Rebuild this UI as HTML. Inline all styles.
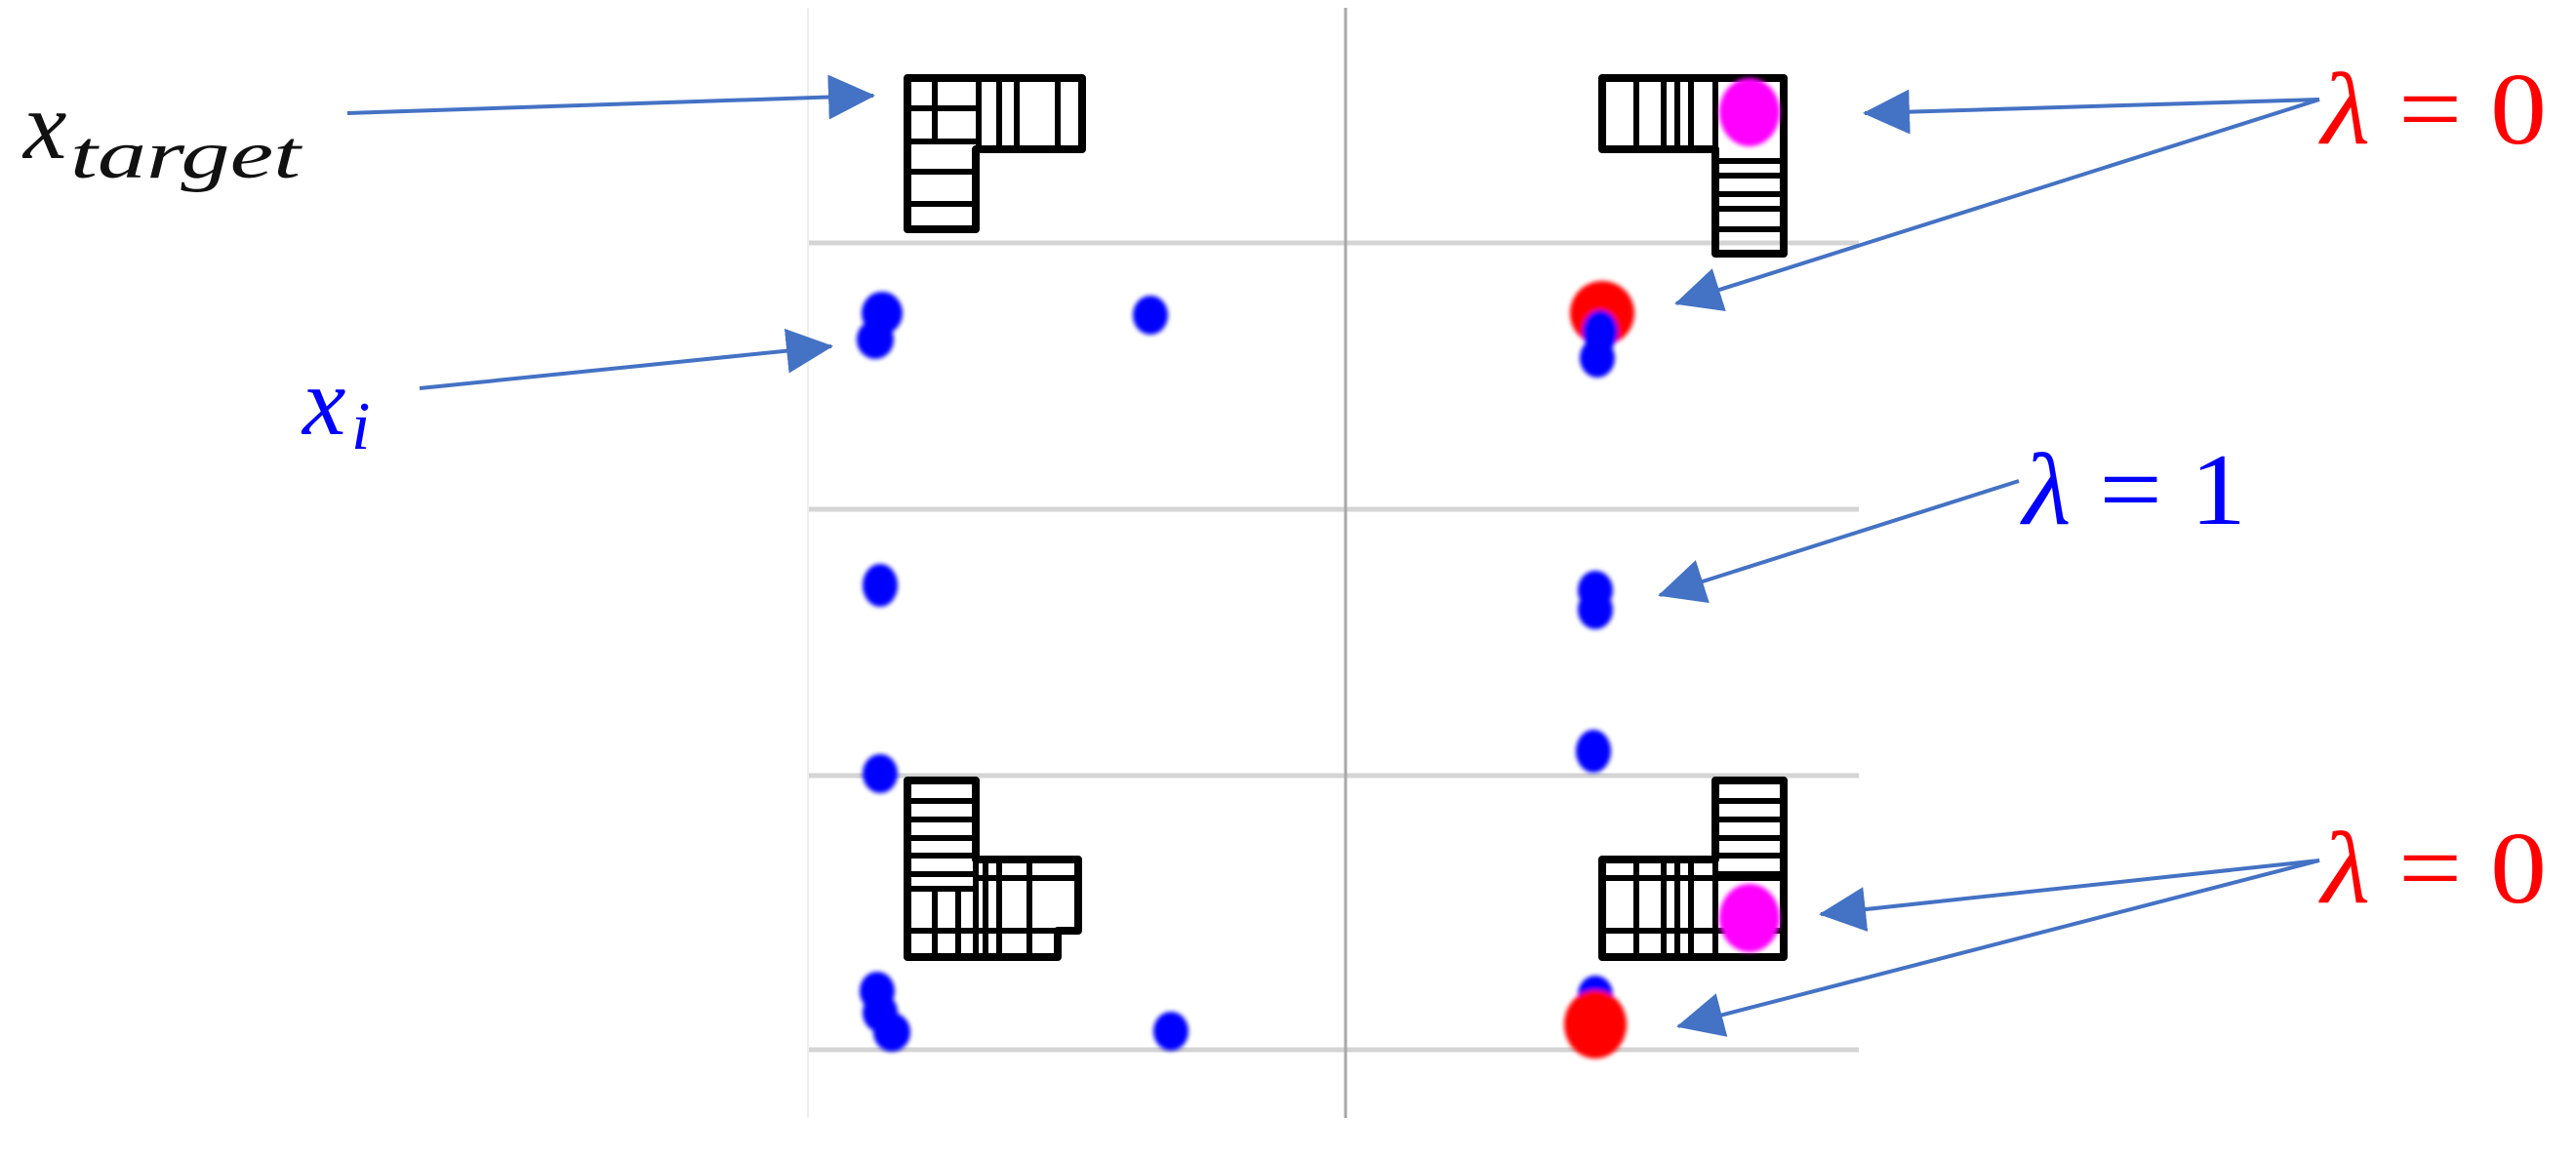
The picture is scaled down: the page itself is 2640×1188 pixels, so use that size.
<!DOCTYPE html>
<html><head><meta charset="utf-8">
<style>
html,body{margin:0;padding:0;background:#fff;}
svg{display:block;}
text{font-family:"Liberation Serif","DejaVu Serif",serif;font-style:italic;}
.up{font-style:normal;}
</style></head>
<body>
<svg width="2640" height="1188" viewBox="0 0 2640 1188" xmlns="http://www.w3.org/2000/svg">
<defs>
<filter id="b" x="-50%" y="-50%" width="200%" height="200%"><feGaussianBlur stdDeviation="2.5"/></filter>
<marker id="ah" markerWidth="48" markerHeight="46" refX="46" refY="23" orient="auto" markerUnits="userSpaceOnUse">
<path d="M0,0 L48,23 L0,46 Z" fill="#4472C4"/></marker>
</defs>
<rect width="2640" height="1188" fill="#fff"/>
<g stroke="#d4d4d4" stroke-width="5">
<line x1="828" y1="249" x2="1905" y2="249"/>
<line x1="828" y1="522" x2="1905" y2="522"/>
<line x1="828" y1="795" x2="1905" y2="795"/>
<line x1="828" y1="1076" x2="1905" y2="1076"/>
</g>
<line x1="828" y1="8" x2="828" y2="1146" stroke="#eeeeee" stroke-width="2"/>
<line x1="1379" y1="8" x2="1379" y2="1146" stroke="#a8a8a8" stroke-width="3"/>

<g fill="none" stroke="#000" stroke-width="8" stroke-linejoin="round">
<path d="M930,80 H1109 V153 H1000 V235 H930 Z"/>
<path d="M1003,80 V153 M1024,80 V153 M1042,80 V153 M1084,80 V153 M958,80 V145 M930,111 H1000 M930,145 H1000 M930,176 H1000 M930,209 H1000" stroke-width="6"/>
<path d="M1642,80 H1828 V260 H1758 V153 H1642 Z"/>
<path d="M1677,80 V153 M1705,80 V153 M1719,80 V153 M1733,80 V153 M1758,80 V153 M1758,165 H1828 M1758,180 H1828 M1758,199 H1828 M1758,214 H1828 M1758,235 H1828" stroke-width="6"/>
<path d="M930,800 H1000 V881 H1105 V954 H1084 V981 H930 Z"/>
<path d="M930,821 H1000 M930,840 H1000 M930,859 H1000 M930,877 H1000 M930,896 H1000 M930,911 H1000 M930,954 H1084 M958,911 V981 M982,911 V981 M1000,881 V981 M1010,881 V981 M1024,881 V981 M1055,881 V981 M1000,900 H1105" stroke-width="6"/>
<path d="M1758,800 H1828 V981 H1642 V881 H1758 Z"/>
<path d="M1758,821 H1828 M1758,840 H1828 M1758,859 H1828 M1758,877 H1828 M1758,896 H1828 M1642,900 H1828 M1642,954 H1828 M1677,881 V981 M1705,881 V981 M1719,881 V981 M1733,881 V981 M1758,881 V981" stroke-width="6"/>
</g>

<g filter="url(#b)">
<ellipse cx="1793" cy="115" rx="31" ry="35" fill="#ff00ff"/>
<ellipse cx="1793" cy="941" rx="31" ry="35" fill="#ff00ff"/>
<ellipse cx="904" cy="321" rx="21" ry="22" fill="#0000ff"/>
<ellipse cx="897" cy="348" rx="19" ry="20" fill="#0000ff"/>
<ellipse cx="1179" cy="323" rx="18" ry="20" fill="#0000ff"/>
<ellipse cx="1642" cy="321" rx="33" ry="33" fill="#ff0000"/>
<ellipse cx="1640" cy="340" rx="18" ry="22" fill="#0000ff"/>
<ellipse cx="1637" cy="367" rx="18" ry="20" fill="#0000ff"/>
<ellipse cx="902" cy="600" rx="18" ry="22" fill="#0000ff"/>
<ellipse cx="1635" cy="605" rx="18" ry="20" fill="#0000ff"/>
<ellipse cx="1635" cy="625" rx="18" ry="20" fill="#0000ff"/>
<ellipse cx="902" cy="793" rx="18" ry="20" fill="#0000ff"/>
<ellipse cx="1633" cy="770" rx="18" ry="22" fill="#0000ff"/>
<ellipse cx="899" cy="1016" rx="18" ry="20" fill="#0000ff"/>
<ellipse cx="902" cy="1038" rx="18" ry="20" fill="#0000ff"/>
<ellipse cx="914" cy="1058" rx="19" ry="20" fill="#0000ff"/>
<ellipse cx="1200" cy="1057" rx="18" ry="20" fill="#0000ff"/>
<ellipse cx="1635" cy="1020" rx="18" ry="20" fill="#0000ff"/>
<ellipse cx="1635" cy="1050" rx="32" ry="35" fill="#ff0000"/>
</g>

<g stroke="#4472C4" stroke-width="4" fill="none" marker-end="url(#ah)">
<line x1="356" y1="116" x2="895" y2="98"/>
<line x1="430" y1="398" x2="852" y2="355"/>
<line x1="2377" y1="102" x2="1911" y2="116"/>
<line x1="2377" y1="102" x2="1718" y2="311"/>
<line x1="2069" y1="493" x2="1701" y2="610"/>
<line x1="2377" y1="882" x2="1866" y2="937"/>
<line x1="2377" y1="882" x2="1720" y2="1052"/>
</g>

<text x="24" y="162" font-size="100" fill="#111">x</text>
<text x="72" y="182" font-size="70" fill="#111" textLength="236" lengthAdjust="spacingAndGlyphs">target</text>
<text x="310" y="445" font-size="100" fill="#0000ff">x</text>
<text x="360" y="460" font-size="70" fill="#0000ff">i</text>
<text x="2379" y="147" font-size="105" fill="#ff0000" textLength="231" lengthAdjust="spacingAndGlyphs">λ<tspan class="up"> = 0</tspan></text>
<text x="2073" y="537" font-size="105" fill="#0000ff" textLength="229" lengthAdjust="spacingAndGlyphs">λ<tspan class="up"> = 1</tspan></text>
<text x="2379" y="925" font-size="105" fill="#ff0000" textLength="231" lengthAdjust="spacingAndGlyphs">λ<tspan class="up"> = 0</tspan></text>
</svg>
</body></html>
